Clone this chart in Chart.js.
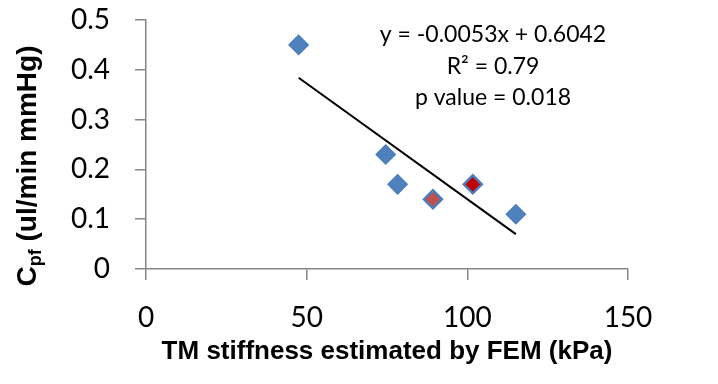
<!DOCTYPE html>
<html>
<head>
<meta charset="utf-8">
<script src="https://cdn.jsdelivr.net/npm/chart.js@4"></script>
<style>
  html, body { margin: 0; padding: 0; background: #fff; }
  #wrap { width: 718px; height: 384px; }
</style>
</head>
<body>
<div id="wrap"><canvas id="cpfChart"></canvas></div>
<script>
// values (axis units)
const stiffness = [47.5, 74.6, 78.3, 89.3, 101.7, 115.1];
const cpf = [0.45, 0.23, 0.17, 0.14, 0.17, 0.11];
const pointColors = ['#4F81BD', '#4F81BD', '#4F81BD', '#C0504D', '#C00000', '#4F81BD'];
const trendX = [47.5, 115.1];
const trendY = [0.384, 0.07];
const xTicks = [0, 50, 100, 150];
const yTicks = [0, 0.1, 0.2, 0.3, 0.4, 0.5];
const fitLines = ['y = -0.0053x + 0.6042', 'R\u00B2 = 0.79', 'p value = 0.018'];

const axisGrey = '#868686';
const tickFont = { family: 'Lato', size: 28 };

// axis titles + fit text (y title needs a subscript)
const textPlugin = {
  id: 'textPlugin',
  afterDraw(chart) {
    const ctx = chart.ctx;
    const area = chart.chartArea;
    ctx.save();
    ctx.fillStyle = '#000';

    // x title
    ctx.font = 'bold 26px "Liberation Sans", Arial';
    ctx.textAlign = 'center';
    ctx.textBaseline = 'middle';
    ctx.fillText('TM stiffness estimated by FEM (kPa)', (area.left + area.right) / 2, 352);

    // y title, rotated
    const big = 'bold 28px "Liberation Sans", Arial';
    const small = 'bold 18px "Liberation Sans", Arial';
    ctx.font = big;
    const wC = ctx.measureText('C').width;
    const wRest = ctx.measureText(' (ul/min mmHg)').width;
    ctx.font = small;
    const wSub = ctx.measureText('pf').width;
    const total = wC + wSub + wRest;
    ctx.translate(26, 166);
    ctx.rotate(-Math.PI / 2);
    ctx.textAlign = 'left';
    ctx.textBaseline = 'alphabetic';
    let x = -total / 2;
    const base = 10;
    ctx.font = big;
    ctx.fillText('C', x, base);
    x += wC;
    ctx.font = small;
    ctx.fillText('pf', x, base + 5);
    x += wSub;
    ctx.font = big;
    ctx.fillText(' (ul/min mmHg)', x, base);
    ctx.restore();

    // regression text
    ctx.save();
    ctx.fillStyle = '#000';
    ctx.font = '23px Lato';
    ctx.textAlign = 'center';
    ctx.textBaseline = 'middle';
    fitLines.forEach((t, i) => ctx.fillText(t, 493, 35 + i * 31.5));
    ctx.restore();
  }
};

const ctx = document.getElementById('cpfChart').getContext('2d');
const cpfChart = new Chart(ctx, {
  type: 'scatter',
  data: {
    datasets: [
      {
        label: 'Cpf',
        data: stiffness.map((x, i) => ({ x: x, y: cpf[i] })),
        pointStyle: 'rectRot',
        pointRadius: stiffness.map((x, i) => pointColors[i] === '#4F81BD' ? 9.5 : 9),
        pointBackgroundColor: pointColors,
        pointBorderColor: '#4A7EBB',
        pointBorderWidth: stiffness.map((x, i) => pointColors[i] === '#4F81BD' ? 1.5 : 2.5),
        order: 1
      },
      {
        type: 'line',
        label: 'Linear fit',
        data: trendX.map((x, i) => ({ x: x, y: trendY[i] })),
        borderColor: '#000',
        borderWidth: 2,
        pointRadius: 0,
        fill: false,
        order: 2
      }
    ]
  },
  options: {
    responsive: true,
    maintainAspectRatio: false,
    animation: false,
    layout: { padding: { top: 20, right: 90, left: 0, bottom: 0 } },
    scales: {
      x: {
        type: 'linear',
        min: 0,
        max: 150,
        afterBuildTicks: s => { s.ticks = xTicks.map(v => ({ value: v })); },
        afterFit: s => { s.height = 115; s.paddingLeft = 0; s.paddingRight = 0; },
        border: { color: axisGrey, width: 1.5 },
        grid: { drawOnChartArea: false, drawTicks: true, tickLength: 11, color: axisGrey, lineWidth: 1.5 },
        ticks: { color: '#000', font: tickFont, padding: 21, maxRotation: 0 }
      },
      y: {
        type: 'linear',
        min: 0,
        max: 0.5,
        afterBuildTicks: s => { s.ticks = yTicks.map(v => ({ value: v })); },
        afterFit: s => { s.width = 146; s.paddingTop = 0; s.paddingBottom = 0; },
        border: { color: axisGrey, width: 1.5 },
        grid: { drawOnChartArea: false, drawTicks: true, tickLength: 11, color: axisGrey, lineWidth: 1.5 },
        ticks: { color: '#000', font: tickFont, padding: 25, callback: v => String(v) }
      }
    },
    plugins: {
      legend: { display: false },
      tooltip: { enabled: false }
    }
  },
  plugins: [textPlugin]
});
</script>
</body>
</html>
